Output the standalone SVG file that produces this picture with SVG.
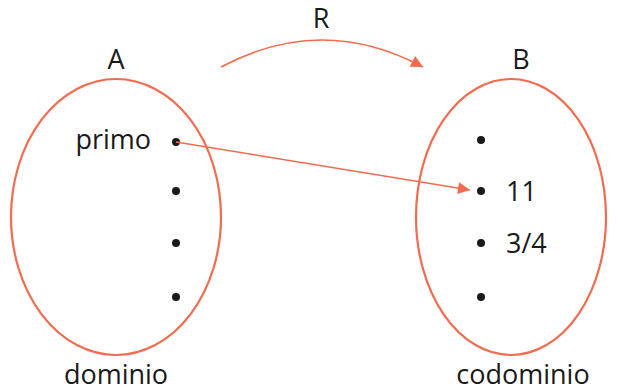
<svg xmlns="http://www.w3.org/2000/svg" width="619" height="391" viewBox="0 0 619 391">
  <style>
    .set { fill: none; stroke: #f26b4e; stroke-width: 2.2; }
    .edge { fill: none; stroke: #f26b4e; stroke-width: 1.6; }
    .dot { fill: #1a1a1a; }
    text { font-family: "Open Sans", "Noto Sans", sans-serif; font-size: 27px; fill: #1a1a1a; }
  </style>
  <defs>
    <marker id="head" viewBox="0 0 10 10" refX="10" refY="5" markerWidth="16" markerHeight="12" markerUnits="userSpaceOnUse" orient="auto">
      <path d="M0,0 L10,5 L0,10 Z" fill="#f26b4e"/>
    </marker>
  </defs>

  <g id="setA">
    <ellipse class="set" cx="116" cy="217" rx="105" ry="138"/>
    <text x="116" y="69" text-anchor="middle">A</text>
    <text x="151" y="149" text-anchor="end">primo</text>
    <circle class="dot" cx="176" cy="142" r="4"/>
    <circle class="dot" cx="176" cy="191" r="4"/>
    <circle class="dot" cx="176" cy="243" r="4"/>
    <circle class="dot" cx="176" cy="297" r="4"/>
    <text x="116" y="384" text-anchor="middle">dominio</text>
  </g>

  <g id="setB">
    <ellipse class="set" cx="511" cy="217" rx="95" ry="138"/>
    <text x="521" y="69" text-anchor="middle">B</text>
    <circle class="dot" cx="481" cy="140" r="4"/>
    <circle class="dot" cx="481" cy="191" r="4"/>
    <text x="506" y="201">11</text>
    <circle class="dot" cx="481" cy="243" r="4"/>
    <text x="506" y="253">3/4</text>
    <circle class="dot" cx="481" cy="297" r="4"/>
    <text x="523" y="384" text-anchor="middle">codominio</text>
  </g>

  <g id="connectors">
    <path class="edge" d="M221,67 Q322,13 423,67" marker-end="url(#head)"/>
    <text x="321" y="28" text-anchor="middle">R</text>
    <path class="edge" d="M176,142 L470,190" marker-end="url(#head)"/>
  </g>
</svg>
